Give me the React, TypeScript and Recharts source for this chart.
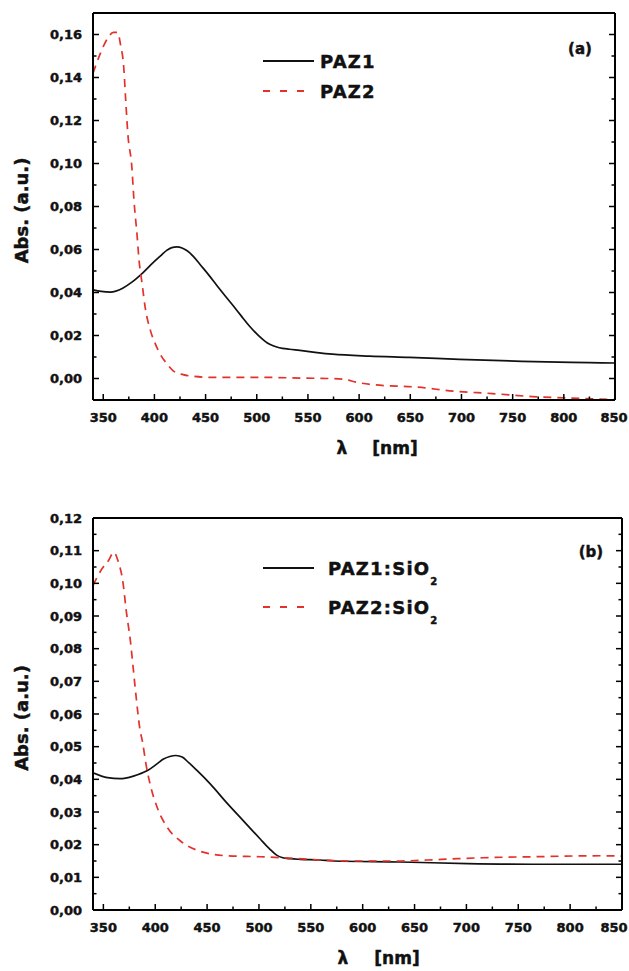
import React from 'react';
import { LineChart, Line, XAxis, YAxis, Legend } from 'recharts';

const FONT = '"DejaVu Sans", "Liberation Sans", sans-serif';
const RED = '#e2322b';

// ---- Panel (a): PAZ1 and PAZ2 films ----
const paz1Nm = [340, 348, 357, 369, 378, 386, 399, 406, 412, 417, 422, 427, 432, 438, 445, 453, 461, 469, 477, 485, 493, 502, 510, 516, 522, 532, 542, 561, 574, 610, 649, 698, 759, 825, 850];
const paz1Abs = [0.0412, 0.0405, 0.0402, 0.042, 0.0448, 0.048, 0.054, 0.057, 0.0596, 0.0609, 0.0612, 0.0607, 0.0594, 0.0568, 0.0528, 0.0482, 0.0433, 0.0385, 0.0338, 0.029, 0.0243, 0.0198, 0.0166, 0.0152, 0.0143, 0.0136, 0.0131, 0.0119, 0.0113, 0.0104, 0.0098, 0.0089, 0.008, 0.0074, 0.0072];

const paz2Nm = [340, 347, 354, 360, 364, 367, 370, 372, 374, 378, 380, 383, 385, 388, 391, 396, 401, 406, 412, 418, 428, 438, 457, 510, 542, 570, 585, 598, 612, 656, 695, 730, 769, 818, 850];
const paz2Abs = [0.142, 0.151, 0.158, 0.161, 0.161, 0.155, 0.145, 0.129, 0.114, 0.098, 0.083, 0.067, 0.055, 0.044, 0.033, 0.0225, 0.016, 0.011, 0.007, 0.0037, 0.0018, 0.001, 0.0005, 0.0005, 0.0002, 0.0, -0.0004, -0.0018, -0.0028, -0.004, -0.006, -0.007, -0.0084, -0.0093, -0.0098];

// ---- Panel (b): PAZ1:SiO2 and PAZ2:SiO2 ----
const paz1SiNm = [340, 354, 366, 379, 392, 402, 408, 414, 420, 426, 432, 440, 453, 469, 485, 501, 510, 517, 523, 530, 540, 559, 572, 636, 701, 764, 850];
const paz1SiAbs = [0.042, 0.0405, 0.0402, 0.041, 0.0426, 0.0448, 0.0462, 0.047, 0.0473, 0.0468, 0.0452, 0.0428, 0.0386, 0.0328, 0.0273, 0.0218, 0.0188, 0.0168, 0.016, 0.0157, 0.0155, 0.0153, 0.015, 0.0147, 0.0142, 0.014, 0.014];

const paz2SiNm = [340, 349, 355, 360, 364, 369, 372, 376, 379, 382, 385, 388, 391, 395, 402, 412, 424, 443, 469, 501, 523, 588, 636, 662, 684, 716, 764, 829, 850];
const paz2SiAbs = [0.0994, 0.1046, 0.107, 0.1095, 0.107, 0.1, 0.0917, 0.0825, 0.0733, 0.064, 0.0558, 0.051, 0.0448, 0.0386, 0.0313, 0.0251, 0.0212, 0.018, 0.0166, 0.0163, 0.016, 0.015, 0.015, 0.0153, 0.0156, 0.016, 0.0163, 0.0166, 0.0165];

// ---- Axes ----
const xDomain = [340, 850];
const xMajorTicks = [350, 400, 450, 500, 550, 600, 650, 700, 750, 800, 850];
const xMinorTicks = [375, 425, 475, 525, 575, 625, 675, 725, 775, 825];

const yDomainA = [-0.01, 0.17];
const yMajorTicksA = [0, 0.02, 0.04, 0.06, 0.08, 0.1, 0.12, 0.14, 0.16];
const yMinorTicksA = [0.01, 0.03, 0.05, 0.07, 0.09, 0.11, 0.13, 0.15];

const yDomainB = [0, 0.12];
const yMajorTicksB = [0, 0.01, 0.02, 0.03, 0.04, 0.05, 0.06, 0.07, 0.08, 0.09, 0.1, 0.11, 0.12];
const yMinorTicksB = [0.005, 0.015, 0.025, 0.035, 0.045, 0.055, 0.065, 0.075, 0.085, 0.095, 0.105, 0.115];

type Series = { key: string; label: string; sub?: string; nm: number[]; abs: number[]; color: string; dash?: string };

const CHART_W = 629;

const toRows = (nm: number[], abs: number[]) => nm.map((n, i) => ({ nm: n, abs: abs[i] }));
const fmtAbs = (v: number) => v.toFixed(2).replace('.', ',');
const isIn = (list: number[], v: number) => list.some((t) => Math.abs(t - v) < 1e-9);
const sortNum = (a: number[]) => [...a].sort((p, q) => p - q);

const MAJOR = 6;
const MINOR = 3.5;
const TICK_W = 1.5;

const labelStyle = { fontFamily: FONT, fontWeight: 700, fill: '#111', stroke: '#111', strokeWidth: 0.45 } as const;

function makeTick(side: 'bottom' | 'top' | 'left' | 'right', majors: number[], fmt?: (v: number) => string) {
  return (props: any) => {
    const { x, y, payload } = props;
    const v = payload.value as number;
    const major = isIn(majors, v);
    const len = major ? MAJOR : MINOR;
    let line;
    if (side === 'bottom') line = <line x1={x} x2={x} y1={y} y2={y - len} />;
    else if (side === 'top') line = <line x1={x} x2={x} y1={y} y2={y + len} />;
    else if (side === 'left') line = <line x1={x} x2={x + len} y1={y} y2={y} />;
    else line = <line x1={x} x2={x - len} y1={y} y2={y} />;
    let text = null;
    if (major && fmt && side === 'bottom') {
      // keep the last label inside the drawing area
      const halfW = 14;
      const tx = Math.min(x, CHART_W - 1 - halfW);
      text = (
        <text x={tx} y={y + 22} textAnchor="middle" fontSize={13} {...labelStyle}>
          {fmt(v)}
        </text>
      );
    } else if (major && fmt && side === 'left') {
      text = (
        <text x={x - 11} y={y + 4.5} textAnchor="end" fontSize={13} {...labelStyle}>
          {fmt(v)}
        </text>
      );
    }
    return (
      <g>
        <g stroke="#000" strokeWidth={TICK_W}>{line}</g>
        {text}
      </g>
    );
  };
}

const XTitle = (props: any) => {
  const vb = props.viewBox || { x: 0, y: 0 };
  const { lamX, nmX } = props;
  const y = vb.y + 54;
  return (
    <text y={y} fontSize={17} {...labelStyle}>
      <tspan x={vb.x + lamX} textAnchor="middle">λ</tspan>
      <tspan x={vb.x + nmX} textAnchor="middle">[nm]</tspan>
    </text>
  );
};

const YTitle = (props: any) => {
  const vb = props.viewBox || { x: 0, y: 0, height: 0 };
  const cx = 21;
  const cy = vb.y + vb.height / 2 + 4;
  return (
    <text x={cx} y={cy} transform={`rotate(-90 ${cx} ${cy})`} textAnchor="middle" dominantBaseline="central" fontSize={18} {...labelStyle}>
      Abs. (a.u.)
    </text>
  );
};

const PanelTag = (props: any) => {
  const vb = props.viewBox || { x: 0, y: 0, width: 0, height: 0 };
  const { text, dx, dy } = props;
  return (
    <text x={vb.x + vb.width - dx} y={vb.y + vb.height + dy} textAnchor="middle" dominantBaseline="central" fontSize={15} {...labelStyle}>
      {text}
    </text>
  );
};

const LegendBox = ({ series, textX, rowGap }: { series: Series[]; textX: number; rowGap: number }) => (
  <svg width={230} height={90} style={{ overflow: 'visible', display: 'block' }}>
    {series.map((s, i) => {
      const y = 16 + i * rowGap;
      return (
        <g key={s.key}>
          <line x1={8} x2={s.dash ? 50 : 59} y1={y} y2={y} stroke={s.color} strokeWidth={1.8} strokeDasharray={s.dash ? '7 10' : undefined} />
          <text x={textX} y={y + 6.5} fontSize={18} letterSpacing={1.2} {...labelStyle}>
            {s.label}
            {s.sub ? (
              <tspan dy={10} fontSize={10}>
                {s.sub}
              </tspan>
            ) : null}
          </text>
        </g>
      );
    })}
  </svg>
);

type PanelProps = {
  top: number;
  height: number;
  margin: { top: number; right: number; bottom: number; left: number };
  xAxisHeight: number;
  yDomain: number[];
  yMajors: number[];
  yMinors: number[];
  series: Series[];
  tag: string;
  tagDx: number;
  tagDy: number;
  lamX: number;
  nmX: number;
  legendTop: number;
  legendTextX: number;
  legendGap: number;
};

function Panel(p: PanelProps) {
  const xTicks = sortNum([...xMajorTicks, ...xMinorTicks]);
  const yTicks = sortNum([...p.yMajors, ...p.yMinors]);
  const axisLine = { stroke: '#000', strokeWidth: 2 };
  return (
    <div style={{ position: 'absolute', left: 0, top: p.top }}>
      <LineChart width={CHART_W} height={p.height} margin={p.margin}>
        <XAxis
          xAxisId="bottom"
          dataKey="nm"
          type="number"
          domain={xDomain}
          allowDataOverflow
          ticks={xTicks}
          interval={0}
          height={p.xAxisHeight}
          tickSize={0}
          tickMargin={0}
          tickLine={false}
          axisLine={axisLine}
          tick={makeTick('bottom', xMajorTicks, (v) => String(v))}
          label={<XTitle lamX={p.lamX} nmX={p.nmX} />}
        />
        <XAxis
          xAxisId="top"
          orientation="top"
          type="number"
          domain={xDomain}
          allowDataOverflow
          ticks={xTicks}
          interval={0}
          height={1}
          tickSize={0}
          tickMargin={0}
          tickLine={false}
          axisLine={axisLine}
          tick={makeTick('top', xMajorTicks)}
          label={<PanelTag text={p.tag} dx={p.tagDx} dy={p.tagDy} />}
        />
        <YAxis
          yAxisId="left"
          type="number"
          domain={p.yDomain}
          allowDataOverflow
          ticks={yTicks}
          interval={0}
          width={93}
          tickSize={0}
          tickMargin={0}
          tickLine={false}
          axisLine={axisLine}
          tick={makeTick('left', p.yMajors, fmtAbs)}
          label={<YTitle />}
        />
        <YAxis
          yAxisId="right"
          orientation="right"
          type="number"
          domain={p.yDomain}
          allowDataOverflow
          ticks={yTicks}
          interval={0}
          width={1}
          tickSize={0}
          tickMargin={0}
          tickLine={false}
          axisLine={axisLine}
          tick={makeTick('right', p.yMajors)}
        />
        <Legend
          layout="vertical"
          align="center"
          verticalAlign="middle"
          wrapperStyle={{ left: 255, top: p.legendTop, width: 230, height: 90 }}
          content={() => <LegendBox series={p.series} textX={p.legendTextX} rowGap={p.legendGap} />}
        />
        {p.series.map((s) => (
          <Line
            key={s.key}
            xAxisId="bottom"
            yAxisId="left"
            data={toRows(s.nm, s.abs)}
            dataKey="abs"
            name={s.label}
            type="monotone"
            stroke={s.color}
            strokeWidth={1.7}
            strokeDasharray={s.dash}
            dot={false}
            activeDot={false}
            isAnimationActive={false}
          />
        ))}
      </LineChart>
    </div>
  );
}

const seriesA: Series[] = [
  { key: 'paz1', label: 'PAZ1', nm: paz1Nm, abs: paz1Abs, color: '#111' },
  { key: 'paz2', label: 'PAZ2', nm: paz2Nm, abs: paz2Abs, color: RED, dash: '8 6' },
];

const seriesB: Series[] = [
  { key: 'paz1si', label: 'PAZ1:SiO', sub: '2', nm: paz1SiNm, abs: paz1SiAbs, color: '#111' },
  { key: 'paz2si', label: 'PAZ2:SiO', sub: '2', nm: paz2SiNm, abs: paz2SiAbs, color: RED, dash: '8 6' },
];

export default function App() {
  return (
    <div style={{ position: 'absolute', left: 0, top: 0, width: CHART_W, height: 971, background: '#fff' }}>
      <Panel
        top={0}
        height={480}
        margin={{ top: 12, right: 13, bottom: 0, left: 0 }}
        xAxisHeight={80}
        yDomain={yDomainA}
        yMajors={yMajorTicksA}
        yMinors={yMinorTicksA}
        series={seriesA}
        tag="(a)"
        tagDx={35}
        tagDy={36}
        lamX={249}
        nmX={302}
        legendTop={45}
        legendTextX={65}
        legendGap={30}
      />
      <Panel
        top={490}
        height={481}
        margin={{ top: 27, right: 6, bottom: 0, left: 0 }}
        xAxisHeight={61}
        yDomain={yDomainB}
        yMajors={yMajorTicksB}
        yMinors={yMinorTicksB}
        series={seriesB}
        tag="(b)"
        tagDx={31}
        tagDy={34}
        lamX={250}
        nmX={304}
        legendTop={62}
        legendTextX={73}
        legendGap={39}
      />
    </div>
  );
}
